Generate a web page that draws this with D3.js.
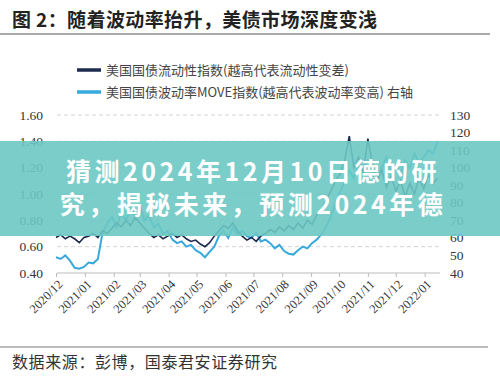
<!DOCTYPE html>
<html><head><meta charset="utf-8">
<script src="https://cdn.jsdelivr.net/npm/d3@7"></script>
<style>html,body{margin:0;padding:0;background:#fff;}svg{display:block;}</style>
</head><body>
<svg id="c" width="500" height="380"></svg>
<script>
// ---- data ----
const titleText = "图 2：随着波动率抬升，美债市场深度变浅";
const legendLabels = ["美国国债流动性指数(越高代表流动性变差)", "美国国债波动率MOVE指数(越高代表波动率变高) 右轴"];
const sourceText = "数据来源：彭博，国泰君安证券研究";
const overlayLines = ["猜测2024年12月10日德的研", "究，揭秘未来，预测2024年德"];
const leftTicks = [0.40, 0.60, 0.80, 1.00, 1.20, 1.40, 1.60];
const rightTicks = [40, 50, 60, 70, 80, 90, 100, 110, 120, 130];
const monthTicks = ["2020/12","2021/01","2021/02","2021/03","2021/04","2021/05","2021/06","2021/07","2021/08","2021/09","2021/10","2021/11","2021/12","2022/01"];
// sampled every 5 days from 2020-12-01
const liquidity = [0.67,0.69,0.66,0.68,0.66,0.63,0.67,0.68,0.70,0.67,
  0.72,0.70,0.74,0.78,0.75,0.80,0.76,0.82,0.78,0.74,
  0.70,0.67,0.69,0.66,0.68,0.70,0.67,0.69,0.66,0.64,
  0.65,0.62,0.60,0.63,0.68,0.72,0.76,0.74,0.78,0.72,
  0.68,0.65,0.67,0.64,0.68,0.70,0.73,0.71,0.75,0.72,
  0.76,0.73,0.78,0.74,0.80,0.77,0.84,0.88,0.95,1.02,
  1.10,1.15,1.25,1.44,1.20,1.28,1.16,1.42,1.22,1.10,
  1.18,1.05,1.14,1.02,1.10,0.98,1.08,1.00,1.12,1.04,
  1.15,1.08,1.12];
const move = [49,48,50,47,43,42.5,43.5,46,45.5,48,
  63,68,72,66,74,70,76,72,78,70,
  73,66,68,62,64,59,57,58,55,56,
  53,51.5,49,52,55,61,64,60,66,62,
  64,61,60,63,58,59,57,54,56,52.5,
  51,50.5,53,55,54,57,59,62,66,72,
  80,86,92,98,94,102,96,104,98,95,
  100,106,98,102,96,104,100,108,103,106,
  110,108,115];

const svg = d3.select("#c");
const parseM = d3.timeParse("%Y/%m");
const dates = d3.timeDay.range(new Date(2020,11,1), new Date(2022,0,16), 5);

const x = d3.scaleTime().domain([new Date(2020,11,1), new Date(2022,0,18)]).range([56, 440.5]);
const yL = d3.scaleLinear().domain([0.4,1.6]).range([273,115]);
const yR = d3.scaleLinear().domain([40,130]).range([273,115]);
const plotL = 57, plotR = 440;

// title
svg.append("text").attr("x",12).attr("y",27)
  .attr("font-family","'Noto Sans CJK SC'").attr("font-weight",700)
  .attr("font-size",19).attr("letter-spacing",0.4).attr("fill","#222").text(titleText);
svg.append("line").attr("x1",0).attr("x2",490).attr("y1",34).attr("y2",34)
  .attr("stroke","#555").attr("stroke-width",1);

// legend
const legColors = ["#1b2b4d", "#38a9dc"];
legendLabels.forEach((t,i)=>{
  const cy = 70 + i*22;
  svg.append("line").attr("x1",77).attr("x2",101).attr("y1",cy).attr("y2",cy)
    .attr("stroke",legColors[i]).attr("stroke-width",3.5);
  svg.append("text").attr("x",106).attr("y",cy+4.5)
    .attr("font-family","'Noto Sans CJK SC'").attr("font-size",13)
    .attr("fill","#444").text(t);
});

// gridlines
svg.append("g").selectAll("line").data(leftTicks.slice(1)).join("line")
  .attr("x1",plotL).attr("x2",plotR).attr("y1",d=>yL(d)).attr("y2",d=>yL(d))
  .attr("stroke","#d4d4d4").attr("stroke-dasharray","4,3").attr("stroke-width",1);

// left axis labels
svg.append("g").selectAll("text").data(leftTicks).join("text")
  .attr("x",43).attr("y",d=>yL(d)+4.5).attr("text-anchor","end")
  .attr("font-family","'Liberation Serif'").attr("font-size",13.5).attr("fill","#333")
  .text(d=>d3.format(".2f")(d));
// right axis labels
svg.append("g").selectAll("text").data(rightTicks).join("text")
  .attr("x",450).attr("y",d=>yR(d)+4.5).attr("text-anchor","start")
  .attr("font-family","'Liberation Serif'").attr("font-size",13.5).attr("fill","#333")
  .text(d=>d);

// bottom axis
const xAxis = d3.axisBottom(x).tickValues(monthTicks.map(parseM)).tickSize(4).tickFormat(d3.timeFormat("%Y/%m"));
const gx = svg.append("g").attr("transform","translate(0,273)").call(xAxis);
gx.select(".domain").attr("d",`M${plotL},0H${plotR}`).attr("stroke","#bbb");
gx.selectAll(".tick line").attr("stroke","#bbb");
gx.selectAll(".tick text")
  .attr("font-family","'Liberation Serif'").attr("font-size",12.5).attr("fill","#333")
  .attr("text-anchor","end").attr("dy",null).attr("y",null)
  .attr("transform","translate(7,12) rotate(-45)");

// lines
const lineL = d3.line().x((d,i)=>x(dates[i])).y(d=>yL(d));
const lineR = d3.line().x((d,i)=>x(dates[i])).y(d=>yR(d));
svg.append("path").datum(move).attr("d",lineR).attr("fill","none")
  .attr("stroke","#38a9dc").attr("stroke-width",2);
svg.append("path").datum(liquidity).attr("d",lineL).attr("fill","none")
  .attr("stroke","#1b2b4d").attr("stroke-width",1.6);

// source
svg.append("line").attr("x1",0).attr("x2",488).attr("y1",347).attr("y2",347)
  .attr("stroke","#777").attr("stroke-width",1);
svg.append("text").attr("x",12).attr("y",368)
  .attr("font-family","'Noto Sans CJK SC'").attr("font-size",16).attr("letter-spacing",0.6).attr("fill","#333")
  .text(sourceText);

// overlay banner
svg.append("rect").attr("x",0).attr("y",141).attr("width",500).attr("height",95)
  .attr("fill","#6cc8c3").attr("opacity",0.9);
overlayLines.forEach((t,i)=>{
  svg.append("text").attr("x",253).attr("y",181 + i*33).attr("text-anchor","middle")
    .attr("font-family","'Noto Sans CJK SC'").attr("font-weight",700)
    .attr("font-size",25).attr("letter-spacing",3.5).attr("fill","#fff").text(t);
});
</script>
</body></html>
